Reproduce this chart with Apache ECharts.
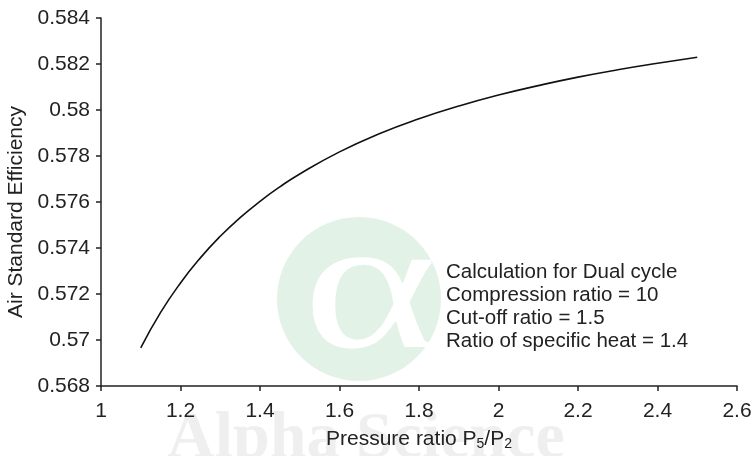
<!DOCTYPE html>
<html>
<head>
<meta charset="utf-8">
<script src="https://cdn.jsdelivr.net/npm/echarts@6/dist/echarts.min.js"></script>
<style>html,body{margin:0;padding:0;background:#fff;}#c{width:752px;height:456px;}</style>
</head>
<body>
<div id="c"></div>
<script>
var pressureRatio = [1.1, 1.15, 1.2, 1.25, 1.3, 1.35, 1.4, 1.45, 1.5, 1.6, 1.7, 1.8, 1.9, 2.0, 2.1, 2.2, 2.3, 2.4, 2.5];
var efficiency = [0.56966, 0.57120, 0.57248, 0.57357, 0.57451, 0.57532, 0.57603, 0.57666, 0.57722, 0.57818, 0.57897, 0.57962, 0.58017, 0.58065, 0.58106, 0.58143, 0.58175, 0.58203, 0.58229];
var annotationLines = ['Calculation for Dual cycle', 'Compression ratio = 10', 'Cut-off ratio = 1.5', 'Ratio of specific heat = 1.4'];

var chart = echarts.init(document.getElementById('c'), null, {renderer: 'canvas'});
var font = 'Liberation Sans, Arial, sans-serif';
var option = {
  animation: false,
  backgroundColor: '#ffffff',
  grid: {left: 101, right: 15, top: 18, bottom: 70, containLabel: false, outerBoundsMode: 'none'},
  graphic: [
    {type: 'circle', z: -10, shape: {cx: 359, cy: 299, r: 82}, style: {fill: '#e3f2e7'}},
    {type: 'text', z: -9, x: 370, y: 297, scaleX: 1.35, style: {text: '\u03b1', font: '190px "Liberation Serif", serif', fill: '#ffffff', align: 'center', verticalAlign: 'middle'}},
    {type: 'text', z: -9, x: 366, y: 473, style: {text: 'Alpha Science', font: 'bold 66px "Liberation Serif", serif', fill: '#efefef', align: 'center', verticalAlign: 'bottom'}},
    {type: 'text', z: 10, left: 446, top: 261, style: {text: annotationLines.join('\n'), font: '20.5px ' + font, lineHeight: 23, fill: '#222222'}}
  ],
  xAxis: {
    type: 'value', min: 1, max: 2.6, interval: 0.2,
    name: 'Pressure ratio P{sub|5}/P{sub|2}', nameLocation: 'middle', nameGap: 41,
    nameTextStyle: {fontFamily: font, fontSize: 21, color: '#222',
      rich: {sub: {fontFamily: font, fontSize: 14, color: '#222', verticalAlign: 'bottom', padding: [10, 0, 0, 0]}}},
    axisLine: {show: true, onZero: false, lineStyle: {color: '#222', width: 1.5}},
    axisTick: {show: true, inside: false, length: 5, lineStyle: {color: '#222', width: 1.5}},
    axisLabel: {fontFamily: font, fontSize: 21, color: '#222', margin: 15,
      formatter: function (v) { return String(Math.round(v * 10) / 10); }},
    splitLine: {show: false}
  },
  yAxis: {
    type: 'value', min: 0.568, max: 0.584, interval: 0.002,
    name: 'Air Standard Efficiency', nameLocation: 'middle', nameGap: 74,
    nameTextStyle: {fontFamily: font, fontSize: 21, color: '#222', padding: [0, 20, 0, 0]},
    axisLine: {show: true, lineStyle: {color: '#222', width: 1.5}},
    axisTick: {show: true, inside: false, length: 5, lineStyle: {color: '#222', width: 1.5}},
    axisLabel: {fontFamily: font, fontSize: 21, color: '#222', margin: 11,
      formatter: function (v) { return String(Math.round(v * 1000) / 1000); }},
    splitLine: {show: false}
  },
  series: [{
    type: 'line', z: 5,
    data: pressureRatio.map(function (x, i) { return [x, efficiency[i]]; }),
    smooth: true, showSymbol: false,
    lineStyle: {color: '#111', width: 1.6}
  }]
};
chart.setOption(option);
</script>
</body>
</html>
